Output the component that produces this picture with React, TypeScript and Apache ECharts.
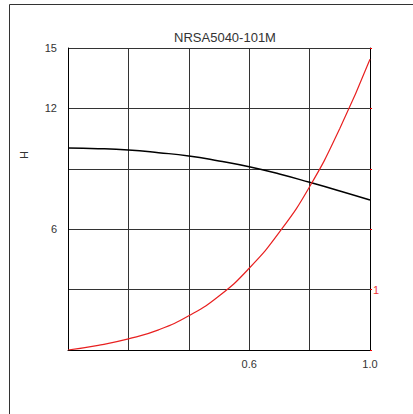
import React, { useEffect, useRef } from "react";
import * as echarts from "echarts";

const xValues = [0, 0.1, 0.2, 0.3, 0.4, 0.5, 0.6, 0.7, 0.8, 0.9, 1.0];
const hValues = [10.03, 10.0, 9.93, 9.8, 9.64, 9.39, 9.1, 8.74, 8.33, 7.9, 7.45];
const redValues = [0, 0.23, 0.55, 1.0, 1.7, 2.68, 4.06, 5.85, 8.11, 11.0, 14.44];
const xLabelsShown = ["0.6", "1.0"];
const yLabelsShown = [15, 12, 6];
const rightLabelsShown = [1];
const title = "NRSA5040-101M";

export default function App() {
  const ref = useRef<HTMLDivElement>(null);
  useEffect(() => {
    if (!ref.current) return;
    const chart = echarts.init(ref.current, null, { renderer: "svg" });
    const font = "Liberation Sans, Arial, sans-serif";
    chart.setOption({
      animation: false,
      backgroundColor: "#fff",
      title: {
        text: title,
        left: 220,
        textAlign: "center",
        top: 26,
        textStyle: { fontFamily: font, fontSize: 13, fontWeight: "normal", color: "#333" },
      },
      graphic: [
        {
          type: "rect",
          shape: { x: 9.5, y: 4.5, width: 430, height: 430 },
          style: { fill: "none", stroke: "#333", lineWidth: 1 },
          silent: true,
        },
        {
          type: "text",
          x: 24,
          y: 155,
          rotation: Math.PI / 2,
          style: {
            text: "H",
            fontFamily: font,
            fontSize: 11,
            fill: "#333",
            align: "center",
            verticalAlign: "middle",
          },
        },
      ],
      grid: { left: 68, right: 43, top: 48, bottom: 64 },
      xAxis: {
        type: "value",
        min: 0,
        max: 1.0,
        interval: 0.2,
        axisLine: { show: true, lineStyle: { color: "#000", width: 1 } },
        axisTick: { show: false },
        splitLine: { show: true, lineStyle: { color: "#333", width: 1 } },
        axisLabel: {
          margin: 8,
          fontFamily: font,
          fontSize: 11,
          color: "#333",
          formatter: (v: number) => {
            const s = v.toFixed(1);
            return xLabelsShown.includes(s) ? s : "";
          },
        },
      },
      yAxis: [
        {
          type: "value",
          min: 0,
          max: 15,
          interval: 3,
          axisLine: { show: true, lineStyle: { color: "#000", width: 1 } },
          axisTick: { show: false },
          splitLine: { show: true, lineStyle: { color: "#333", width: 1 } },
          axisLabel: {
            margin: 11,
            fontFamily: font,
            fontSize: 11,
            color: "#333",
            formatter: (v: number) => (yLabelsShown.includes(v) ? String(v) : ""),
          },
        },
        {
          type: "value",
          min: 0,
          max: 5,
          interval: 1,
          position: "right",
          axisLine: { show: true, lineStyle: { color: "#000", width: 1 } },
          axisTick: { show: true, length: 2, lineStyle: { color: "#e00", width: 1 } },
          splitLine: { show: false },
          axisLabel: {
            margin: 3,
            fontFamily: font,
            fontSize: 11,
            color: "#e33",
            formatter: (v: number) => (rightLabelsShown.includes(v) ? String(v) : ""),
          },
        },
      ],
      series: [
        {
          type: "line",
          data: xValues.map((x, i) => [x, hValues[i]]),
          smooth: true,
          showSymbol: false,
          yAxisIndex: 0,
          lineStyle: { color: "#000", width: 1.5 },
          z: 3,
        },
        {
          type: "line",
          data: xValues.map((x, i) => [x, redValues[i]]),
          smooth: true,
          showSymbol: false,
          yAxisIndex: 0,
          lineStyle: { color: "#e82020", width: 1.2 },
          z: 4,
        },
      ],
    });
    return () => chart.dispose();
  }, []);
  return (
    <div
      ref={ref}
      style={{ position: "fixed", left: 0, top: 0, width: 413, height: 414 }}
    />
  );
}
